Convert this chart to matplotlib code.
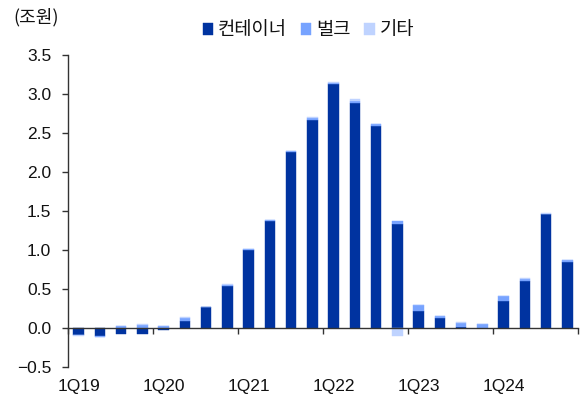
import matplotlib
matplotlib.use("Agg")
import matplotlib.pyplot as plt
import numpy as np

plt.rcParams['font.family'] = ['Liberation Sans', 'Noto Sans CJK KR', 'DejaVu Sans']

quarters = [f"{q}Q{y}" for y in range(19, 25) for q in range(1, 5)]
container = [-0.085, -0.10, -0.075, -0.075, -0.025, 0.094, 0.27, 0.54,
             1.00, 1.37, 2.26, 2.67, 3.13, 2.89, 2.59, 1.33,
             0.22, 0.13, 0.015, 0.005, 0.345, 0.60, 1.46, 0.85]
bulk = [-0.01, -0.015, 0.025, 0.035, 0.025, 0.035, 0.005, 0.01,
        0.01, 0.015, 0.005, 0.02, 0.01, 0.02, 0.02, 0.04,
        0.07, 0.02, 0.055, 0.04, 0.06, 0.03, 0.005, 0.02]
other = [-0.005, -0.005, 0.0, 0.01, 0.0, 0.01, 0.0, 0.01,
         0.005, 0.0, 0.005, 0.01, 0.01, 0.03, 0.01, -0.10,
         0.01, 0.005, 0.005, 0.01, 0.005, 0.01, 0.01, 0.005]
series_names = ["컨테이너", "벌크", "기타"]
colors = ["#0033A0", "#77A3FF", "#BFD3FF"]

fig = plt.figure(figsize=(5.84, 3.94), dpi=100)
ax = fig.add_axes([68/584, 1-367/394, (578-68)/584, (367-55)/394])

x = np.arange(len(quarters))
pos_bottom = np.zeros(len(x))
neg_bottom = np.zeros(len(x))
for vals, name, c in zip([container, bulk, other], series_names, colors):
    v = np.array(vals)
    bottoms = np.where(v >= 0, pos_bottom, neg_bottom)
    ax.bar(x, v, bottom=bottoms, width=0.5, color=c, label=name,
           edgecolor=c, linewidth=0.3)
    pos_bottom += np.where(v >= 0, v, 0)
    neg_bottom += np.where(v < 0, v, 0)

ax.set_xlim(-0.5, len(x) - 0.5)
ax.set_ylim(-0.5, 3.5)
ax.set_yticks(np.arange(-0.5, 3.51, 0.5))
ax.set_yticklabels([f"{t:.1f}".replace("-", "−") for t in np.arange(-0.5, 3.51, 0.5)])

for s in ['top', 'right']:
    ax.spines[s].set_visible(False)
ax.spines['bottom'].set_position(('data', 0))
ax.spines['bottom'].set_color('#333333')
ax.spines['left'].set_color('#333333')
ax.spines['bottom'].set_linewidth(1.0)
ax.spines['left'].set_linewidth(1.0)

# year boundary ticks (major, no labels)
ax.set_xticks(np.arange(-0.5, len(x), 4))
ax.set_xticklabels([])
ax.tick_params(axis='x', which='major', direction='out', length=4, width=1, color='#333333')
# quarter labels on first quarter of each year (minor, no marks)
ax.set_xticks(x[::4], minor=True)
ax.set_xticklabels(quarters[::4], minor=True)
ax.tick_params(axis='x', which='minor', length=0, pad=37, labelsize=12.5, labelcolor='#111111')
ax.tick_params(axis='y', direction='out', length=4, width=1, color='#333333',
               labelsize=12.5, labelcolor='#111111', pad=8)

fig.text(13/584, 1-17/394, "(조원)", fontsize=13, va='center', ha='left', color='#111111',
         family=['Noto Sans CJK KR', 'DejaVu Sans'])

leg = fig.legend(loc='center', bbox_to_anchor=(0.528, 1-30/394), ncol=3, frameon=False,
                 handlelength=0.55, handleheight=0.55, handletextpad=0.25, columnspacing=0.75,
                 borderpad=0.2,
                 prop={'family': ['Noto Sans CJK KR', 'DejaVu Sans'], 'size': 13.5})
for t in leg.get_texts():
    t.set_color('#111111')

fig.savefig("out.png", dpi=100)
